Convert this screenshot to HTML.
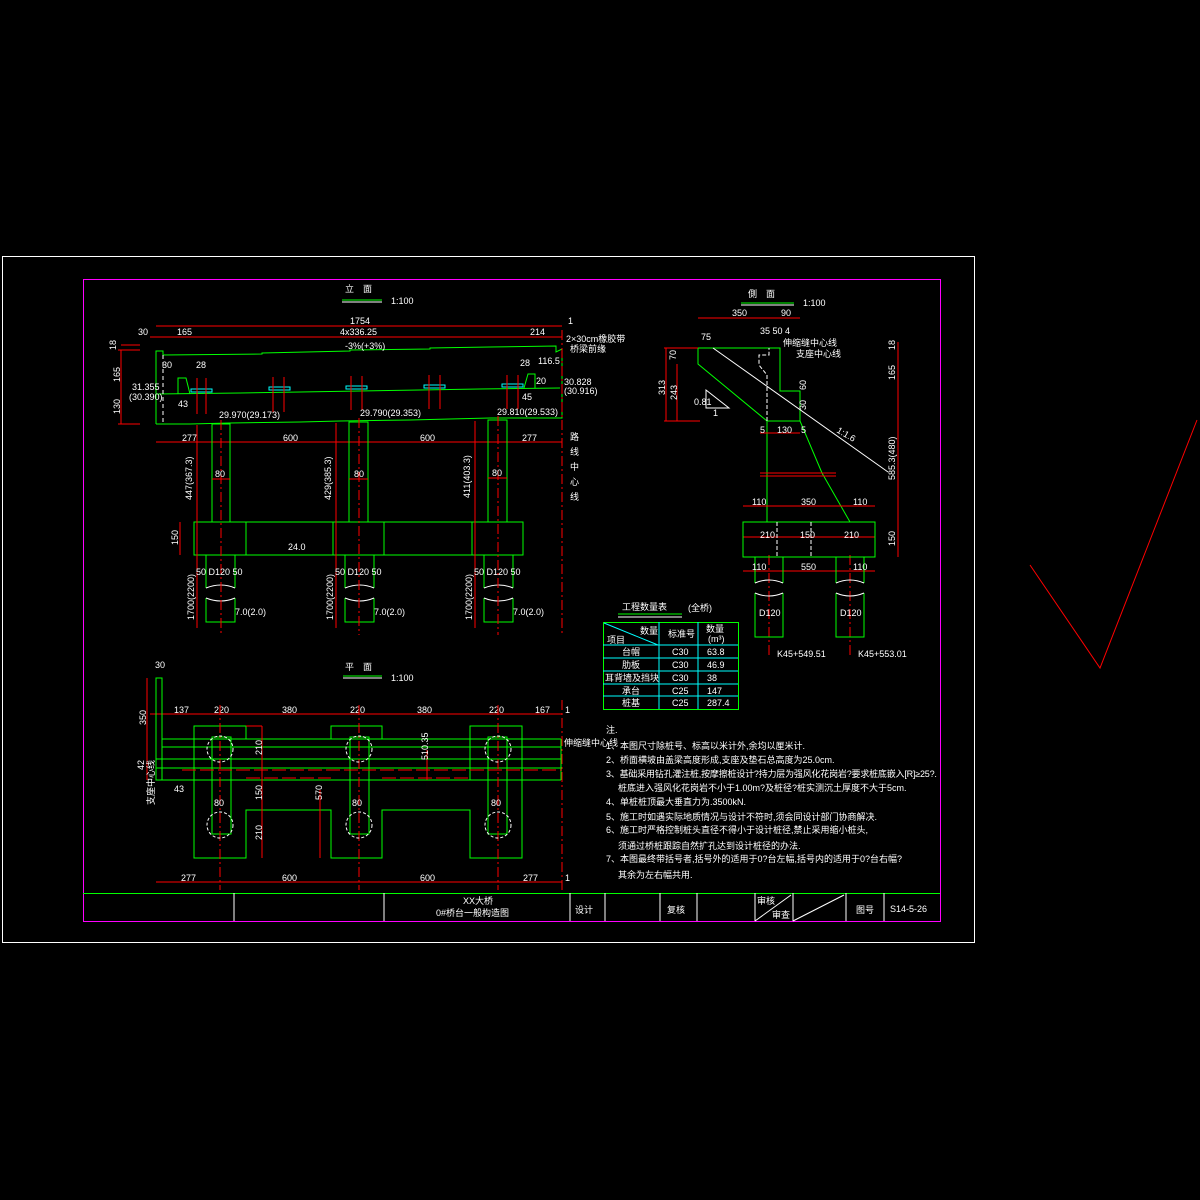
<!DOCTYPE html>
<html><head><meta charset="utf-8"><style>
html,body{margin:0;padding:0;background:#000;width:1200px;height:1200px;overflow:hidden}
svg{display:block}
text{font-family:"Liberation Sans","Noto Sans CJK SC",sans-serif;fill:#fff;font-size:9px}
.g{stroke:#0f0;fill:none;stroke-width:1}
.r{stroke:#f00;fill:none;stroke-width:1}
.w{stroke:#fff;fill:none;stroke-width:1}
.c{stroke:#0ff;fill:none;stroke-width:1}
.d{stroke-dasharray:10 3 2 3}
</style></head><body>
<svg width="1200" height="1200" viewBox="0 0 1200 1200">
<rect x="2.5" y="256.5" width="972" height="686" class="w"/>
<rect x="83.5" y="279.5" width="857" height="642" style="stroke:#f0f;fill:none"/>
<polyline points="1030,565 1100,668 1197,420" class="r"/>

<!-- ELEVATION -->
<text x="345" y="292" font-size="13">立　面</text>
<line x1="342" y1="300" x2="382" y2="300" class="g"/><line x1="342" y1="302" x2="382" y2="302" class="w"/>
<text x="391" y="304" font-size="10">1:100</text>
<line x1="156" y1="326" x2="562" y2="326" class="r"/><text x="350" y="324">1754</text><text x="568" y="324">1</text>
<line x1="150" y1="337" x2="562" y2="337" class="r"/>
<text x="138" y="335">30</text><text x="177" y="335">165</text><text x="340" y="335">4x336.25</text><text x="530" y="335">214</text>
<text x="566" y="342" font-size="7">2×30cm橡胶带</text><text x="570" y="352" font-size="7">桥梁前缘</text>
<polyline points="156,424 156,351 163,351 163,355 262,354 262,353 350,351 350,350 430,349 430,348 490,347 556,346 556,352 562,349 562,418 490,418 410,420 340,421 300,422 230,423 190,424 156,424" class="g"/>
<polyline points="156,394 240,393 300,392 360,391 420,390 480,389 560,388" class="g"/>
<line x1="163" y1="355" x2="163" y2="424" class="w" stroke-dasharray="4 3"/>
<polyline points="178,394 178,378 186,378 190,394" class="g"/>
<polyline points="524,388 528,374 535,374 535,388" class="g"/>
<text x="345" y="349">-3%(+3%)</text>
<g class="c"><rect x="191" y="389" width="21" height="3"/><rect x="269" y="387" width="21" height="3"/><rect x="346" y="386" width="21" height="3"/><rect x="424" y="385" width="21" height="3"/><rect x="502" y="384" width="21" height="3"/></g>
<g class="r"><line x1="197" y1="378" x2="197" y2="414"/><line x1="206" y1="378" x2="206" y2="414"/><line x1="273" y1="377" x2="273" y2="412"/><line x1="284" y1="377" x2="284" y2="412"/><line x1="351" y1="376" x2="351" y2="410"/><line x1="362" y1="376" x2="362" y2="410"/><line x1="429" y1="375" x2="429" y2="409"/><line x1="440" y1="375" x2="440" y2="409"/><line x1="507" y1="375" x2="507" y2="409"/><line x1="518" y1="375" x2="518" y2="409"/>
<line x1="121" y1="350" x2="121" y2="424"/><line x1="118" y1="350" x2="140" y2="350"/><line x1="118" y1="424" x2="140" y2="424"/><line x1="121" y1="345" x2="140" y2="345"/></g>
<text x="116" y="350" font-size="8" transform="rotate(-90 116 350)">18</text>
<text x="120" y="382" font-size="8" transform="rotate(-90 120 382)">165</text>
<text x="120" y="414" font-size="8" transform="rotate(-90 120 414)">130</text>
<text x="132" y="390" font-size="8">31.355</text><text x="129" y="400" font-size="8">(30.390)</text>
<text x="162" y="368" font-size="8">30</text><text x="196" y="368" font-size="8">28</text><text x="178" y="407" font-size="8">43</text>
<text x="520" y="366" font-size="8">28</text><text x="538" y="364" font-size="8">116.5</text><text x="522" y="400" font-size="8">45</text><text x="536" y="384" font-size="8">20</text>
<text x="564" y="385" font-size="8">30.828</text><text x="564" y="394" font-size="8">(30.916)</text>
<text x="219" y="418" font-size="8">29.970(29.173)</text><text x="360" y="416" font-size="8">29.790(29.353)</text><text x="497" y="415" font-size="8">29.810(29.533)</text>
<line x1="156" y1="442" x2="562" y2="442" class="r"/>
<text x="182" y="441">277</text><text x="283" y="441">600</text><text x="420" y="441">600</text><text x="522" y="441">277</text>
<line x1="562" y1="330" x2="562" y2="635" class="r d"/>
<text x="570" y="440" font-size="9">路</text><text x="570" y="455" font-size="9">线</text><text x="570" y="470" font-size="9">中</text><text x="570" y="485" font-size="9">心</text><text x="570" y="500" font-size="9">线</text>
<g class="g"><rect x="212" y="424" width="18" height="98"/><rect x="349" y="422" width="19" height="100"/><rect x="488" y="420" width="19" height="102"/>
<rect x="194" y="522" width="329" height="33"/><line x1="246" y1="522" x2="246" y2="555"/><line x1="333" y1="522" x2="333" y2="555"/><line x1="384" y1="522" x2="384" y2="555"/><line x1="472" y1="522" x2="472" y2="555"/>
<path d="M206,555V588M235,555V588M206,598V622H235V598M345,555V588M374,555V588M345,598V622H374V598M484,555V588M513,555V588M484,598V622H513V598"/></g>
<g class="w"><path d="M206,588q15,-6 29,0M206,598q15,6 29,0M345,588q15,-6 29,0M345,598q15,6 29,0M484,588q15,-6 29,0M484,598q15,6 29,0"/></g>
<g class="r"><line x1="221" y1="420" x2="221" y2="635" class="d"/><line x1="359" y1="418" x2="359" y2="635" class="d"/><line x1="498" y1="416" x2="498" y2="635" class="d"/>
<line x1="197" y1="425" x2="197" y2="628"/><line x1="336" y1="423" x2="336" y2="628"/><line x1="475" y1="421" x2="475" y2="628"/>
<line x1="212" y1="479" x2="230" y2="479"/><line x1="349" y1="479" x2="368" y2="479"/><line x1="488" y1="478" x2="507" y2="478"/>
<line x1="180" y1="522" x2="180" y2="555"/></g>
<text x="192" y="500" font-size="8" transform="rotate(-90 192 500)">447(367.3)</text>
<text x="331" y="500" font-size="8" transform="rotate(-90 331 500)">429(385.3)</text>
<text x="470" y="498" font-size="8" transform="rotate(-90 470 498)">411(403.3)</text>
<text x="215" y="477" font-size="8">80</text><text x="354" y="477" font-size="8">80</text><text x="492" y="476" font-size="8">80</text>
<text x="178" y="545" font-size="8" transform="rotate(-90 178 545)">150</text><text x="288" y="550" font-size="8">24.0</text>
<text x="196" y="575" font-size="8">50 D120 50</text><text x="335" y="575" font-size="8">50 D120 50</text><text x="474" y="575" font-size="8">50 D120 50</text>
<text x="194" y="620" font-size="8" transform="rotate(-90 194 620)">1700(2200)</text><text x="333" y="620" font-size="8" transform="rotate(-90 333 620)">1700(2200)</text><text x="472" y="620" font-size="8" transform="rotate(-90 472 620)">1700(2200)</text>
<text x="235" y="615" font-size="8">7.0(2.0)</text><text x="374" y="615" font-size="8">7.0(2.0)</text><text x="513" y="615" font-size="8">7.0(2.0)</text>

<!-- SIDE VIEW -->
<text x="748" y="297" font-size="13">側　面</text>
<line x1="741" y1="303" x2="794" y2="303" class="g"/><line x1="741" y1="305" x2="794" y2="305" class="w"/>
<text x="803" y="306" font-size="10">1:100</text>
<line x1="698" y1="318" x2="800" y2="318" class="r"/><text x="732" y="316" font-size="8">350</text><text x="781" y="316" font-size="8">90</text>
<text x="701" y="340" font-size="8">75</text><text x="760" y="334" font-size="8">35 50 4</text>
<polygon points="698,348 780,348 780,391 800,391 800,421 767,421 698,364" class="g"/>
<line x1="767" y1="421" x2="767" y2="522" class="g"/>
<polyline points="800,421 822,473 850,522" class="g"/>
<path d="M767,421V375l-8,-10v-10h10v-7" class="w" stroke-dasharray="4 2"/>
<line x1="713" y1="348" x2="888" y2="472" class="w"/>
<polygon points="706,390 706,408 729,408" class="w"/><text x="694" y="405" font-size="7">0.81</text><text x="713" y="416" font-size="7">1</text>
<g class="r"><line x1="666" y1="348" x2="666" y2="421"/><line x1="677" y1="364" x2="677" y2="421"/><line x1="664" y1="348" x2="698" y2="348"/><line x1="664" y1="421" x2="700" y2="421"/>
<line x1="898" y1="342" x2="898" y2="557"/><line x1="760" y1="433" x2="800" y2="433"/><line x1="760" y1="473" x2="836" y2="473"/><line x1="760" y1="476" x2="836" y2="476"/>
<line x1="743" y1="506" x2="875" y2="506"/><line x1="743" y1="537" x2="875" y2="537"/><line x1="743" y1="571" x2="875" y2="571"/>
<line x1="769" y1="555" x2="769" y2="655" class="d"/><line x1="850" y1="555" x2="850" y2="655" class="d"/></g>
<text x="665" y="395" font-size="8" transform="rotate(-90 665 395)">313</text><text x="677" y="400" font-size="8" transform="rotate(-90 677 400)">243</text><text x="676" y="360" font-size="8" transform="rotate(-90 676 360)">70</text>
<text x="783" y="346" font-size="7">伸缩缝中心线</text><text x="796" y="357" font-size="7">支座中心线</text>
<text x="806" y="390" font-size="8" transform="rotate(-90 806 390)">60</text><text x="806" y="410" font-size="8" transform="rotate(-90 806 410)">30</text>
<text x="760" y="433" font-size="8">5</text><text x="777" y="433" font-size="8">130</text><text x="801" y="433" font-size="8">5</text>
<text x="836" y="432" font-size="8" transform="rotate(30 836 432)">1:1.6</text>
<text x="895" y="350" font-size="8" transform="rotate(-90 895 350)">18</text><text x="895" y="380" font-size="8" transform="rotate(-90 895 380)">165</text><text x="895" y="480" font-size="8" transform="rotate(-90 895 480)">585.3(480)</text><text x="895" y="546" font-size="8" transform="rotate(-90 895 546)">150</text>
<g class="g"><rect x="743" y="522" width="132" height="35"/><path d="M755,557V583M783,557V583M836,557V583M864,557V583M755,593V637H783V593M836,593V637H864V593"/></g>
<g class="w"><path d="M777,522V557M811,522V557" stroke-dasharray="4 2"/><path d="M755,583q14,-6 28,0M755,593q14,6 28,0M836,583q14,-6 28,0M836,593q14,6 28,0"/></g>
<text x="752" y="505" font-size="8">110</text><text x="801" y="505" font-size="8">350</text><text x="853" y="505" font-size="8">110</text>
<text x="760" y="538" font-size="8">210</text><text x="800" y="538" font-size="8">150</text><text x="844" y="538" font-size="8">210</text>
<text x="752" y="570" font-size="8">110</text><text x="801" y="570" font-size="8">550</text><text x="853" y="570" font-size="8">110</text>
<text x="759" y="616" font-size="8">D120</text><text x="840" y="616" font-size="8">D120</text>
<text x="777" y="657" font-size="7">K45+549.51</text><text x="858" y="657" font-size="7">K45+553.01</text>

<!-- TABLE -->
<text x="622" y="610" font-size="13">工程数量表</text><text x="688" y="611" font-size="7">(全桥)</text>
<line x1="618" y1="614" x2="682" y2="614" class="g" stroke-width="2"/><line x1="618" y1="617" x2="682" y2="617" class="w"/>
<rect x="603.5" y="622.5" width="135" height="87" class="g"/>
<g class="c"><line x1="603" y1="645" x2="738" y2="645"/><line x1="603" y1="658" x2="738" y2="658"/><line x1="603" y1="671" x2="738" y2="671"/><line x1="603" y1="684" x2="738" y2="684"/><line x1="603" y1="696" x2="738" y2="696"/><line x1="659" y1="622" x2="659" y2="709"/><line x1="698" y1="622" x2="698" y2="709"/><line x1="604" y1="623" x2="658" y2="645"/></g>
<text x="640" y="634" font-size="8">数量</text><text x="607" y="643" font-size="8">项目</text><text x="668" y="637" font-size="8">标准号</text><text x="706" y="632" font-size="8">数量</text><text x="708" y="642" font-size="8">(m³)</text>
<text x="622" y="655" font-size="8">台帽</text><text x="672" y="655" font-size="8">C30</text><text x="707" y="655" font-size="8">63.8</text>
<text x="622" y="668" font-size="8">肋板</text><text x="672" y="668" font-size="8">C30</text><text x="707" y="668" font-size="8">46.9</text>
<text x="605" y="681" font-size="8">耳背墙及挡块</text><text x="672" y="681" font-size="8">C30</text><text x="707" y="681" font-size="8">38</text>
<text x="622" y="694" font-size="8">承台</text><text x="672" y="694" font-size="8">C25</text><text x="707" y="694" font-size="8">147</text>
<text x="622" y="706" font-size="8">桩基</text><text x="672" y="706" font-size="8">C25</text><text x="707" y="706" font-size="8">287.4</text>

<!-- PLAN -->
<text x="345" y="670" font-size="13">平　面</text>
<line x1="343" y1="676" x2="382" y2="676" class="g"/><line x1="343" y1="678" x2="382" y2="678" class="w"/>
<text x="391" y="681" font-size="10">1:100</text>
<text x="155" y="668" font-size="8">30</text>
<line x1="150" y1="714" x2="562" y2="714" class="r"/>
<text x="174" y="713" font-size="8">137</text><text x="214" y="713" font-size="8">220</text><text x="282" y="713" font-size="8">380</text><text x="350" y="713" font-size="8">220</text><text x="417" y="713" font-size="8">380</text><text x="489" y="713" font-size="8">220</text><text x="535" y="713" font-size="8">167</text><text x="565" y="713" font-size="8">1</text>
<g class="g"><rect x="156" y="678" width="6" height="102"/>
<line x1="162" y1="739" x2="561" y2="739"/><line x1="162" y1="747" x2="561" y2="747"/><line x1="156" y1="759" x2="561" y2="759"/><line x1="156" y1="768" x2="561" y2="768"/><line x1="156" y1="780" x2="561" y2="780"/><line x1="561" y1="739" x2="561" y2="780"/>
<polyline points="246,726 194,726 194,858 246,858 246,810 331,810 331,858 382,858 382,810 470,810 470,858 522,858 522,726 470,726 470,780"/>
<polyline points="246,726 246,739"/><polyline points="331,739 331,726 382,726 382,739"/>
<rect x="212" y="737" width="19" height="97"/><rect x="350" y="737" width="19" height="97"/><rect x="488" y="737" width="19" height="97"/></g>
<g class="r"><line x1="182" y1="770" x2="562" y2="770" stroke-dasharray="14 4"/><line x1="246" y1="726" x2="262" y2="726"/><line x1="262" y1="726" x2="262" y2="858"/><line x1="246" y1="778" x2="331" y2="778" stroke-dasharray="14 4"/><line x1="382" y1="778" x2="470" y2="778" stroke-dasharray="14 4"/>
<line x1="220" y1="705" x2="220" y2="890" class="d"/><line x1="359" y1="705" x2="359" y2="890" class="d"/><line x1="498" y1="705" x2="498" y2="890" class="d"/><line x1="562" y1="700" x2="562" y2="890" class="d"/>
<line x1="147" y1="678" x2="147" y2="780"/><line x1="320" y1="790" x2="320" y2="858"/><line x1="427" y1="750" x2="427" y2="780"/><line x1="156" y1="882" x2="562" y2="882"/></g>
<g class="w" stroke-dasharray="3 2"><circle cx="220" cy="749" r="13"/><circle cx="359" cy="749" r="13"/><circle cx="498" cy="749" r="13"/><circle cx="220" cy="825" r="13"/><circle cx="359" cy="825" r="13"/><circle cx="498" cy="825" r="13"/></g>
<text x="146" y="725" font-size="8" transform="rotate(-90 146 725)">350</text><text x="144" y="770" font-size="8" transform="rotate(-90 144 770)">42</text>
<text x="154" y="805" font-size="7" transform="rotate(-90 154 805)">支座中心线</text><text x="174" y="792" font-size="8">43</text>
<text x="262" y="755" font-size="8" transform="rotate(-90 262 755)">210</text><text x="262" y="800" font-size="8" transform="rotate(-90 262 800)">150</text><text x="262" y="840" font-size="8" transform="rotate(-90 262 840)">210</text>
<text x="322" y="800" font-size="8" transform="rotate(-90 322 800)">570</text><text x="428" y="760" font-size="8" transform="rotate(-90 428 760)">510.35</text>
<text x="214" y="806" font-size="8">80</text><text x="352" y="806" font-size="8">80</text><text x="491" y="806" font-size="8">80</text>
<text x="564" y="746" font-size="7">伸缩缝中心线</text>
<text x="181" y="881" font-size="8">277</text><text x="282" y="881" font-size="8">600</text><text x="420" y="881" font-size="8">600</text><text x="523" y="881" font-size="8">277</text><text x="565" y="881" font-size="8">1</text>

<!-- NOTES -->
<g font-size="8.5">
<text x="606" y="733" font-size="10">注.</text>
<text x="606" y="749">1、本图尺寸除桩号、标高以米计外,余均以厘米计.</text>
<text x="606" y="763">2、桥面横坡由盖梁高度形成,支座及垫石总高度为25.0cm.</text>
<text x="606" y="777" font-size="8" letter-spacing="-0.2">3、基础采用钻孔灌注桩,按摩擦桩设计?持力层为强风化花岗岩?要求桩底嵌入[R]≥25?.</text>
<text x="618" y="791">桩底进入强风化花岗岩不小于1.00m?及桩径?桩实测沉土厚度不大于5cm.</text>
<text x="606" y="805">4、单桩桩顶最大垂直力为.3500kN.</text>
<text x="606" y="820">5、施工时如遇实际地质情况与设计不符时,须会同设计部门协商解决.</text>
<text x="606" y="833">6、施工时严格控制桩头直径不得小于设计桩径,禁止采用缩小桩头,</text>
<text x="618" y="849">须通过桥桩跟踪自然扩孔达到设计桩径的办法.</text>
<text x="606" y="862">7、本图最终带括号者,括号外的适用于0?台左幅,括号内的适用于0?台右幅?</text>
<text x="618" y="878">其余为左右幅共用.</text>
</g>

<!-- TITLE BLOCK -->
<line x1="83" y1="893.5" x2="940" y2="893.5" class="g"/>
<g class="w"><line x1="234" y1="893" x2="234" y2="921"/><line x1="384" y1="893" x2="384" y2="921"/><line x1="570" y1="893" x2="570" y2="921"/><line x1="605" y1="893" x2="605" y2="921"/><line x1="660" y1="893" x2="660" y2="921"/><line x1="697" y1="893" x2="697" y2="921"/><line x1="755" y1="893" x2="755" y2="921"/><line x1="793" y1="893" x2="793" y2="921"/><line x1="846" y1="893" x2="846" y2="921"/><line x1="884" y1="893" x2="884" y2="921"/><line x1="755" y1="921" x2="791" y2="895"/><line x1="793" y1="921" x2="844" y2="895"/></g>
<text x="463" y="904" font-size="8">XX大桥</text><text x="436" y="916" font-size="8">0#桥台一般构造图</text>
<text x="575" y="913" font-size="11">设计</text><text x="667" y="913" font-size="11">复核</text>
<text x="757" y="904" font-size="8">审核</text><text x="772" y="918" font-size="8">审查</text>
<text x="856" y="913" font-size="11">图号</text><text x="890" y="912" font-size="9">S14-5-26</text>
</svg>
</body></html>
